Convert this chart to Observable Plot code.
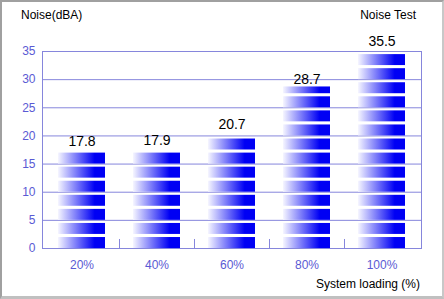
<!DOCTYPE html>
<html><head><meta charset="utf-8">
<script src="https://cdn.jsdelivr.net/npm/d3@7"></script>
<script src="https://cdn.jsdelivr.net/npm/@observablehq/plot@0.6"></script>
<style>
html,body{margin:0;padding:0;background:#fff;}
#wrap{position:relative;width:444px;height:299px;overflow:hidden;font-family:"Liberation Sans",Arial,sans-serif;background:#fff;}
#wrap svg{position:absolute;left:0;top:0;}
.t{position:absolute;font-size:12px;color:#000;white-space:nowrap;line-height:12px;}
#border{position:absolute;left:0;top:0;width:444px;height:299px;box-sizing:border-box;border-style:solid;border-width:2px 2px 3px 2px;border-color:#a0a0a0 #c8c8c8 #c0c0c0 #a0a0a0;pointer-events:none;}
</style></head><body>
<div id="wrap">
<div class="t" style="left:21px;top:9px;">Noise(dBA)</div>
<div class="t" style="right:28px;top:9px;">Noise Test</div>
<div class="t" style="right:24px;top:278px;">System loading (%)</div>
<div id="border"></div>
</div>
<script>
const categories = ["20%", "40%", "60%", "80%", "100%"];
const noise = [17.8, 17.9, 20.7, 28.7, 35.5];
const yTicks = [0, 5, 10, 15, 20, 25, 30, 35];
const gridValues = [5, 10, 15, 20, 25, 30];

const data = categories.map((c, i) => ({cat: c, value: noise[i]}));

// striped bars: segments of 2.5 dBA, each with a small white gap on top;
// a top segment is only drawn when at least ~half of it is reached
const period = 2.5, fillPart = 1.95, minPart = 1.0;
const stripes = [];
for (const d of data) {
  for (let k = 0; period * k + minPart <= d.value; k++) {
    stripes.push({cat: d.cat, y1: period * k, y2: Math.min(period * k + fillPart, d.value)});
  }
}

const gridColor = "#8686dc";
const labelColor = "#5a5ad4";

function boundaryTicks(index, scales) {
  const ns = "http://www.w3.org/2000/svg";
  const g = document.createElementNS(ns, "g");
  const x = scales.x, y = scales.y;
  const bw = x.bandwidth ? x.bandwidth() : 0;
  const step = x.step ? x.step() : bw;
  const gap = (step - bw) / 2;
  for (let i = 1; i < categories.length; i++) {
    const px = Math.round(x(categories[i]) - gap) + 0.5;
    const l = document.createElementNS(ns, "line");
    l.setAttribute("x1", px); l.setAttribute("x2", px);
    l.setAttribute("y1", y(0)); l.setAttribute("y2", y(1.6));
    l.setAttribute("stroke", gridColor);
    g.appendChild(l);
  }
  return g;
}

const chart = Plot.plot({
  width: 444,
  height: 299,
  marginLeft: 42,
  marginRight: 23,
  marginTop: 51,
  marginBottom: 51,
  style: {fontFamily: "'Liberation Sans', Arial, sans-serif", background: "transparent"},
  x: {domain: categories, paddingInner: 0.37, paddingOuter: 0.185},
  y: {domain: [0, 35]},
  marks: [
    Plot.ruleY(gridValues, {stroke: gridColor, strokeWidth: 1}),
    Plot.frame({stroke: gridColor}),
    boundaryTicks,
    Plot.barY(stripes, {x: "cat", y1: "y1", y2: "y2", fill: "url(#barGrad)"}),
    Plot.text(data, {x: "cat", y: "value", text: d => d.value.toFixed(1), dy: -7, fontSize: 14, fill: "#000", lineAnchor: "middle"}),
    Plot.axisY({ticks: yTicks, tickSize: 0, tickPadding: 7, fontSize: 12, color: labelColor, label: null}),
    Plot.axisX({tickSize: 0, tickPadding: 12, fontSize: 12, color: labelColor, label: null})
  ]
});

const ns = "http://www.w3.org/2000/svg";
const defs = document.createElementNS(ns, "defs");
const grad = document.createElementNS(ns, "linearGradient");
grad.setAttribute("id", "barGrad");
grad.setAttribute("x1", "0"); grad.setAttribute("x2", "1");
grad.setAttribute("y1", "0"); grad.setAttribute("y2", "0");
[["0", "#f6f6ff"], ["0.78", "#0000f4"], ["1", "#0000f4"]].forEach(([o, c]) => {
  const s = document.createElementNS(ns, "stop");
  s.setAttribute("offset", o); s.setAttribute("stop-color", c);
  grad.appendChild(s);
});
defs.appendChild(grad);
chart.insertBefore(defs, chart.firstChild);

const wrap = document.getElementById("wrap");
wrap.insertBefore(chart, wrap.firstChild);
</script>
</body></html>
